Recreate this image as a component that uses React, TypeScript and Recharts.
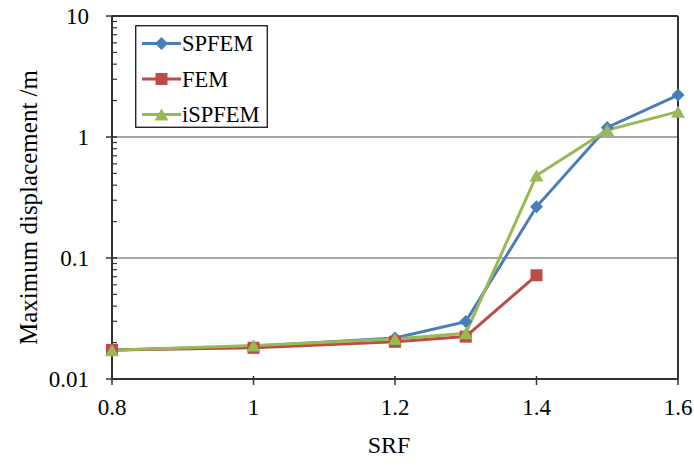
import React from 'react';
import { LineChart, Line, XAxis, YAxis, ReferenceLine, Legend } from 'recharts';

const srf = [0.8, 1.0, 1.2, 1.3, 1.4, 1.5, 1.6];
const spfem = [0.0174, 0.0186, 0.0218, 0.0298, 0.265, 1.2, 2.22];
const fem = [0.0174, 0.0181, 0.0203, 0.0224, 0.072, null, null];
const ispfem = [0.0173, 0.0189, 0.0214, 0.0239, 0.48, 1.14, 1.62];

const xTicks = [0.8, 1, 1.2, 1.4, 1.6];
const yMajor = [0.01, 0.1, 1, 10];
const yTicks = [
  0.01, 0.02, 0.03, 0.04, 0.05, 0.06, 0.07, 0.08, 0.09,
  0.1, 0.2, 0.3, 0.4, 0.5, 0.6, 0.7, 0.8, 0.9,
  1, 2, 3, 4, 5, 6, 7, 8, 9, 10,
];

const seriesNames = ['SPFEM', 'FEM', 'iSPFEM'];
const colors = { SPFEM: '#4a7ebb', FEM: '#be4b48', iSPFEM: '#98b954' };

const data = srf.map((x, i) => ({ srf: x, SPFEM: spfem[i], FEM: fem[i], iSPFEM: ispfem[i] }));

const FONT = '"Liberation Serif", "Times New Roman", serif';
const AXIS = '#333333';

const markerPath = (name: string, cx: number, cy: number) => {
  if (name === 'SPFEM') {
    const r = 6.5;
    return `M${cx},${cy - r}L${cx + r},${cy}L${cx},${cy + r}L${cx - r},${cy}Z`;
  }
  if (name === 'FEM') {
    const h = 6;
    return `M${cx - h},${cy - h}L${cx + h},${cy - h}L${cx + h},${cy + h}L${cx - h},${cy + h}Z`;
  }
  const w = 7, h = 6;
  return `M${cx},${cy - h}L${cx + w},${cy + h}L${cx - w},${cy + h}Z`;
};

const makeDot = (name: string) => (props: any) => {
  const { cx, cy, index } = props;
  if (cx == null || cy == null || isNaN(cy)) return <g key={`${name}-${index}`} />;
  return <path key={`${name}-${index}`} d={markerPath(name, cx, cy)} fill={(colors as any)[name]} stroke="none" />;
};

const YTick = (props: any) => {
  const { x, y, payload } = props;
  const v = payload.value;
  const major = yMajor.some((m) => Math.abs(m - v) / m < 1e-6);
  if (major) {
    return (
      <g>
        <line x1={x - 6} x2={x + 5} y1={y} y2={y} stroke={AXIS} strokeWidth={1.5} />
        <text x={x - 23} y={y} dy="0.35em" textAnchor="end" fontFamily={FONT} fontSize={23} fill="#000">
          {String(v)}
        </text>
      </g>
    );
  }
  return <line x1={x} x2={x + 5} y1={y} y2={y} stroke={AXIS} strokeWidth={1.2} />;
};

const XTick = (props: any) => {
  const { x, y, payload } = props;
  return (
    <g>
      <line x1={x} x2={x} y1={y - 3} y2={y + 6} stroke={AXIS} strokeWidth={1.5} />
      <text x={x} y={y + 36} textAnchor="middle" fontFamily={FONT} fontSize={23} fill="#000">
        {String(payload.value)}
      </text>
    </g>
  );
};

const LegendBox = () => (
  <svg width={133} height={103} style={{ display: 'block' }}>
    <rect x={0.75} y={0.75} width={131.5} height={101.5} fill="#fff" stroke="#000" strokeWidth={1.2} />
    {seriesNames.map((name, i) => {
      const cy = 18.5 + i * 35.5;
      return (
        <g key={name}>
          <line x1={7} x2={46} y1={cy} y2={cy} stroke={(colors as any)[name]} strokeWidth={3} />
          <path d={markerPath(name, 26.5, cy)} fill={(colors as any)[name]} />
          <text x={47} y={cy} dy="0.35em" fontFamily={FONT} fontSize={22.5} fill="#000">
            {name}
          </text>
        </g>
      );
    })}
  </svg>
);

export default function App() {
  return (
    <div style={{ position: 'absolute', left: 0, top: 0, width: 694, height: 465, background: '#fff' }}>
      <LineChart width={694} height={465} data={data} margin={{ top: 16, right: 16, bottom: 16, left: 0 }}>
        <XAxis
          dataKey="srf"
          type="number"
          domain={[0.8, 1.6]}
          ticks={xTicks}
          interval={0}
          height={70}
          tickSize={0}
          tickMargin={0}
          tickLine={false}
          axisLine={{ stroke: AXIS, strokeWidth: 2 }}
          tick={<XTick />}
          label={{ value: 'SRF', position: 'insideBottom', offset: -4, dx: -6, fontFamily: FONT, fontSize: 24, fill: '#000' }}
        />
        <YAxis
          scale="log"
          type="number"
          domain={[0.01, 10]}
          allowDataOverflow
          ticks={yTicks}
          interval={0}
          width={112}
          tickSize={0}
          tickMargin={0}
          tickLine={false}
          axisLine={{ stroke: AXIS, strokeWidth: 2 }}
          tick={<YTick />}
          label={{
            value: 'Maximum displacement /m',
            angle: -90,
            position: 'center',
            dx: -28,
            dy: 10,
            fontFamily: FONT,
            fontSize: 25,
            fill: '#000',
          }}
        />
        <ReferenceLine y={1} stroke="#a6a6a6" strokeWidth={2} />
        <ReferenceLine y={0.1} stroke="#a6a6a6" strokeWidth={2} />
        <ReferenceLine y={10} stroke={AXIS} strokeWidth={2} />
        <ReferenceLine x={1.6} stroke={AXIS} strokeWidth={2} />
        {seriesNames.map((name) => (
          <Line
            key={name}
            dataKey={name}
            stroke={(colors as any)[name]}
            strokeWidth={3}
            dot={makeDot(name)}
            activeDot={false}
            isAnimationActive={false}
            connectNulls={false}
          />
        ))}
        <Legend
          layout="vertical"
          align="center"
          verticalAlign="middle"
          content={<LegendBox />}
          wrapperStyle={{ position: 'absolute', left: 135, top: 25, width: 133, height: 103 }}
        />
      </LineChart>
    </div>
  );
}
